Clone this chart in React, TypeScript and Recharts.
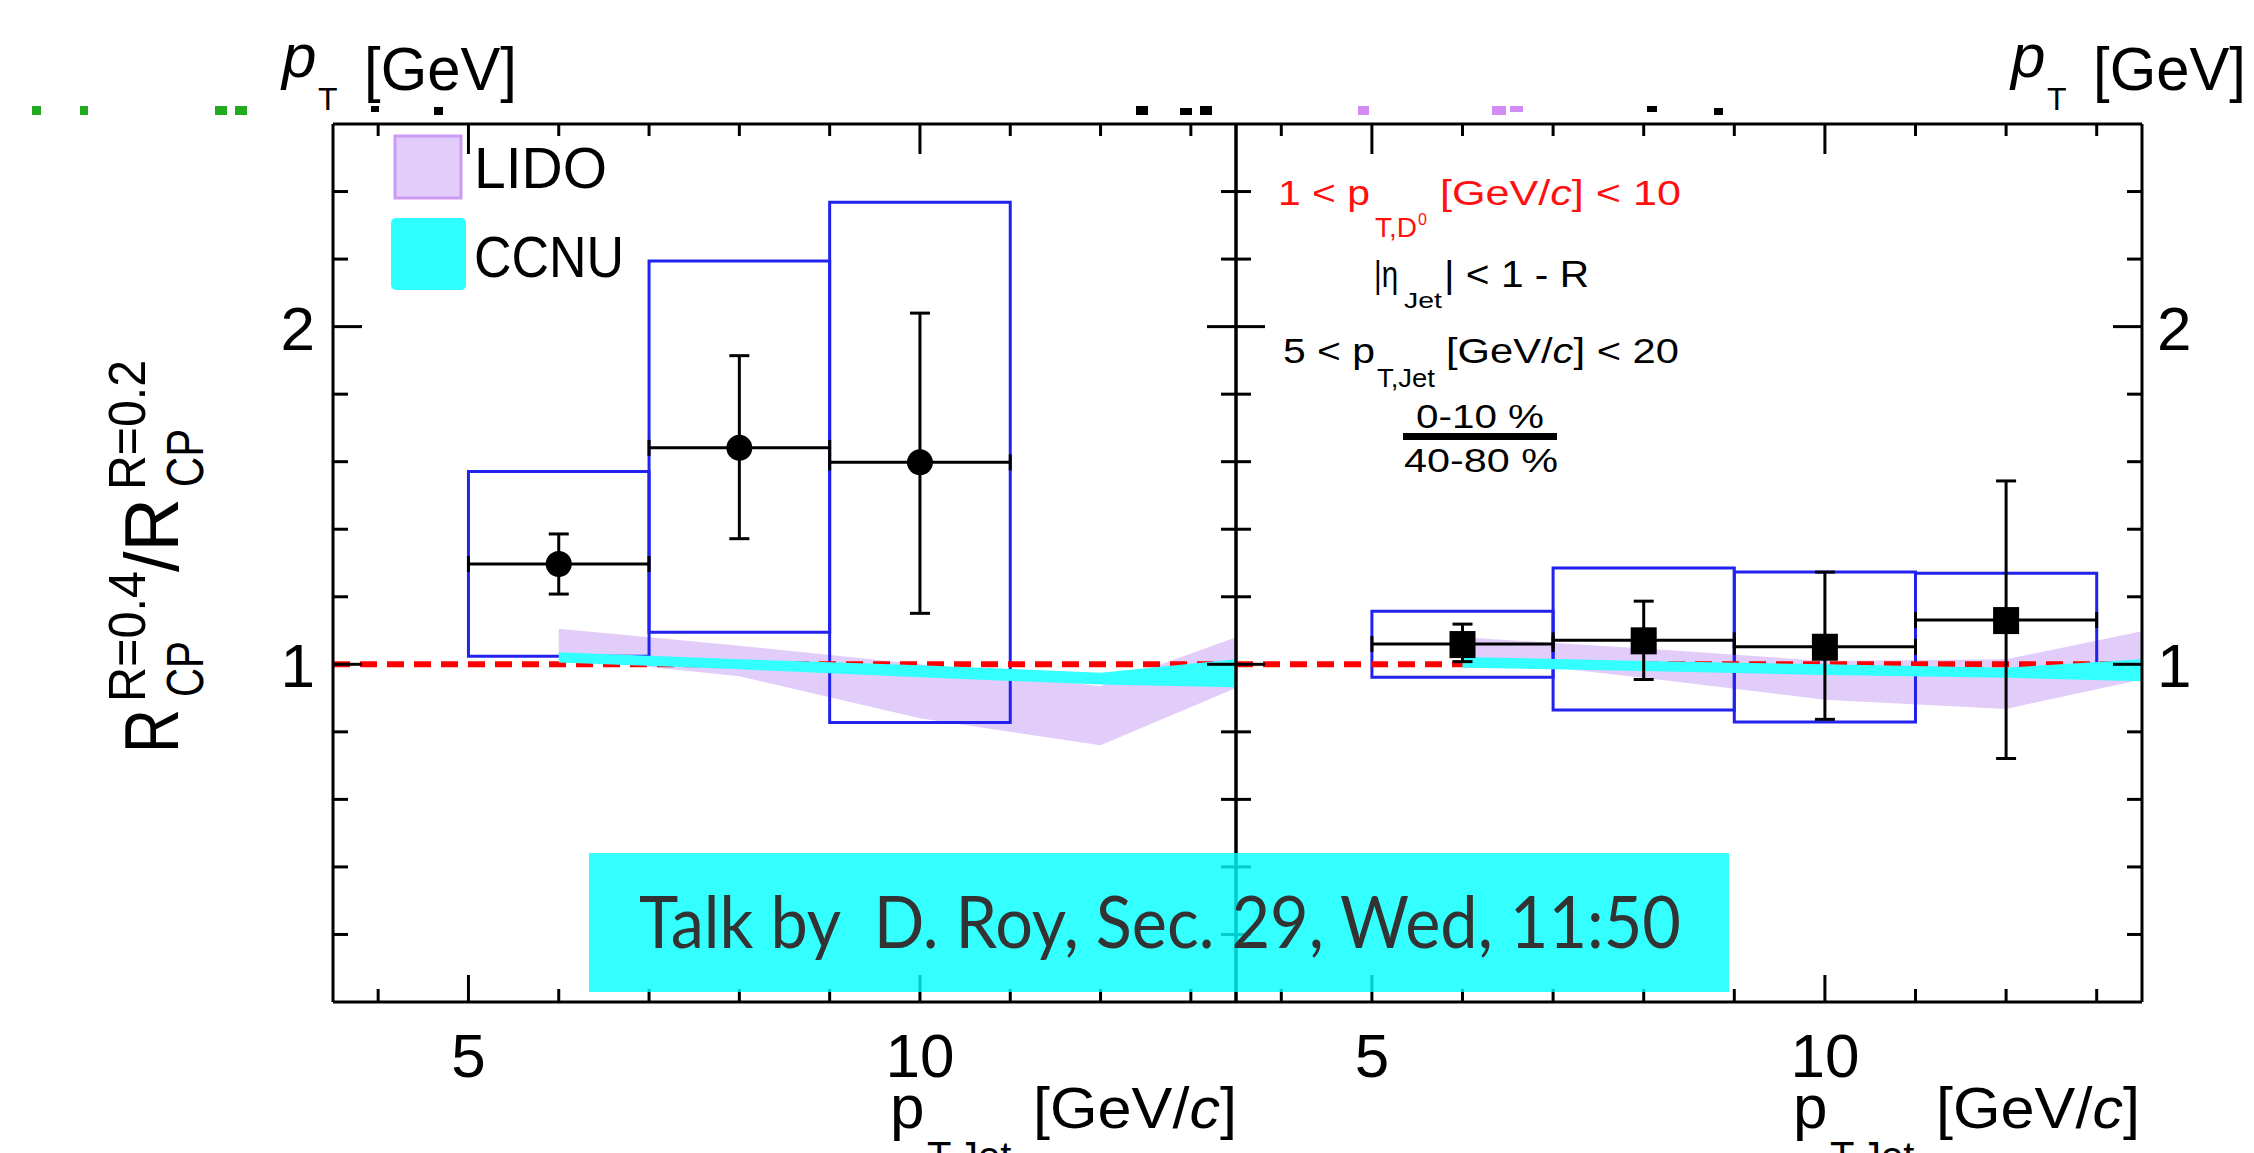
import React from "react";
import {
  ComposedChart,
  XAxis,
  YAxis,
  Area,
  Scatter,
  ErrorBar,
  ReferenceArea,
  ReferenceLine,
} from "recharts";

const W = 2254;
const H = 1153;
const PLOT_TOP = 124;
const PLOT_BOTTOM = 1002;
const FONT = "'Liberation Sans', Arial, Helvetica, sans-serif";

// axis ticks
const xTicks = [4, 5, 6, 7, 8, 9, 10, 11, 12, 13];
const xMajor = [5, 10];
const yTicks = [0.2, 0.4, 0.6, 0.8, 1, 1.2, 1.4, 1.6, 1.8, 2, 2.2, 2.4];
const yMajor = [1, 2];

// model bands (same x nodes in both panels)
const bandX = [6, 8, 10, 12, 13.5];
const lidoLeftLo = [1.02, 0.965, 0.84, 0.76, 0.93];
const lidoLeftHi = [1.105, 1.055, 1.0, 0.935, 1.08];
const ccnuLeftLo = [1.005, 0.985, 0.962, 0.94, 0.932];
const ccnuLeftHi = [1.036, 1.015, 0.997, 0.975, 1.015];
const lidoRightLo = [1.02, 0.96, 0.895, 0.868, 0.955];
const lidoRightHi = [1.08, 1.047, 1.01, 1.015, 1.098];
const ccnuRightLo = [0.99, 0.98, 0.968, 0.96, 0.95];
const ccnuRightHi = [1.022, 1.01, 1.0, 0.99, 1.015];

// left panel: circles (bins 5-7, 7-9, 9-11)
const leftBinLo = [5, 7, 9];
const leftBinHi = [7, 9, 11];
const leftY = [1.297, 1.641, 1.598];
const leftStatLo = [1.208, 1.372, 1.151];
const leftStatHi = [1.386, 1.914, 2.04];
const leftSysLo = [1.024, 1.095, 0.828];
const leftSysHi = [1.571, 2.194, 2.368];

// right panel: squares (bins 5-7, 7-9, 9-11, 11-13)
const rightBinLo = [5, 7, 9, 11];
const rightBinHi = [7, 9, 11, 13];
const rightY = [1.06, 1.071, 1.052, 1.131];
const rightStatLo = [1.008, 0.955, 0.837, 0.721];
const rightStatHi = [1.119, 1.187, 1.273, 1.543];
const rightSysLo = [0.962, 0.865, 0.829, 0.975];
const rightSysHi = [1.157, 1.285, 1.273, 1.27];

const makeBands = (lLo, lHi, cLo, cHi) =>
  bandX.map((x, i) => ({ x, lido: [lLo[i], lHi[i]], ccnu: [cLo[i], cHi[i]] }));

const makePoints = (binLo, binHi, y, lo, hi) =>
  y.map((v, i) => ({
    x: (binLo[i] + binHi[i]) / 2,
    y: v,
    ey: [v - lo[i], hi[i] - v],
    ex: (binHi[i] - binLo[i]) / 2,
  }));

const makeBoxes = (binLo, binHi, sLo, sHi) =>
  binLo.map((b, i) => ({ x1: b, x2: binHi[i], y1: sLo[i], y2: sHi[i] }));

const leftBands = makeBands(lidoLeftLo, lidoLeftHi, ccnuLeftLo, ccnuLeftHi);
const rightBands = makeBands(lidoRightLo, lidoRightHi, ccnuRightLo, ccnuRightHi);
const leftPoints = makePoints(leftBinLo, leftBinHi, leftY, leftStatLo, leftStatHi);
const rightPoints = makePoints(rightBinLo, rightBinHi, rightY, rightStatLo, rightStatHi);
const leftBoxes = makeBoxes(leftBinLo, leftBinHi, leftSysLo, leftSysHi);
const rightBoxes = makeBoxes(rightBinLo, rightBinHi, rightSysLo, rightSysHi);

const axisStyle = { stroke: "#000", strokeWidth: 3 };

// ticks drawn inward from the frame, labels only where asked
const makeTick = (side: string, showLabel: boolean) => (props: any) => {
  const { x, y, payload } = props;
  const v = payload.value;
  const vertical = side === "bottom" || side === "top";
  const major = vertical ? xMajor.includes(v) : yMajor.includes(v);
  let len = major ? 29 : 15;
  if (side === "bottom") len = major ? 27 : 13;
  if (side === "top") len = major ? 30 : 12;
  let line;
  let label = null;
  if (side === "bottom") {
    line = <line x1={x} y1={y} x2={x} y2={y - len} />;
    if (showLabel && major)
      label = <text x={x} y={y + 75} textAnchor="middle">{v}</text>;
  } else if (side === "top") {
    line = <line x1={x} y1={y} x2={x} y2={y + len} />;
  } else if (side === "left") {
    line = <line x1={x} y1={y} x2={x + len} y2={y} />;
    if (showLabel && major)
      label = <text x={x - 18} y={y + 23} textAnchor="end">{v}</text>;
  } else {
    line = <line x1={x} y1={y} x2={x - len} y2={y} />;
    if (showLabel && major)
      label = <text x={x + 15} y={y + 23} textAnchor="start">{v}</text>;
  }
  return (
    <g stroke="#000" strokeWidth={3}>
      {line}
      {label && (
        <g stroke="none" fill="#000" fontSize={62} fontFamily={FONT}>
          {label}
        </g>
      )}
    </g>
  );
};

const Circle = (props: any) => <circle cx={props.cx} cy={props.cy} r={13} fill="#000" />;
const Square = (props: any) => (
  <rect x={props.cx - 13} y={props.cy - 13} width={26} height={27} fill="#000" />
);

const Panel = ({ plotLeft, plotRight, bands, points, boxes, marker, labelSide }: any) => {
  const margin = {
    top: PLOT_TOP - 1,
    bottom: H - PLOT_BOTTOM - 1,
    left: plotLeft - 1,
    right: W - plotRight - 1,
  };
  return (
    <div style={{ position: "absolute", left: 0, top: 0 }}>
      <ComposedChart width={W} height={H} data={bands} margin={margin}>
        <XAxis
          xAxisId="b"
          type="number"
          dataKey="x"
          domain={[3.5, 13.5]}
          allowDataOverflow
          ticks={xTicks}
          interval={0}
          height={1}
          tickSize={0}
          tickMargin={0}
          axisLine={axisStyle}
          tickLine={false}
          tick={makeTick("bottom", true)}
        />
        <XAxis
          xAxisId="t"
          orientation="top"
          type="number"
          dataKey="x"
          domain={[3.5, 13.5]}
          allowDataOverflow
          ticks={xTicks}
          interval={0}
          height={1}
          tickSize={0}
          tickMargin={0}
          axisLine={axisStyle}
          tickLine={false}
          tick={makeTick("top", false)}
        />
        <YAxis
          yAxisId="l"
          type="number"
          domain={[0, 2.6]}
          allowDataOverflow
          ticks={yTicks}
          interval={0}
          width={1}
          tickSize={0}
          tickMargin={0}
          axisLine={axisStyle}
          tickLine={false}
          tick={makeTick("left", labelSide === "left")}
        />
        <YAxis
          yAxisId="r"
          orientation="right"
          type="number"
          domain={[0, 2.6]}
          allowDataOverflow
          ticks={yTicks}
          interval={0}
          width={1}
          tickSize={0}
          tickMargin={0}
          axisLine={axisStyle}
          tickLine={false}
          tick={makeTick("right", labelSide === "right")}
        />
        <Area
          xAxisId="b"
          yAxisId="l"
          dataKey="lido"
          type="linear"
          fill="#E2CCFA"
          fillOpacity={1}
          stroke="none"
          isAnimationActive={false}
          zIndex={100}
        />
        {boxes.map((b: any, i: number) => (
          <ReferenceArea
            key={i}
            xAxisId="b"
            yAxisId="l"
            x1={b.x1}
            x2={b.x2}
            y1={b.y1}
            y2={b.y2}
            fill="none"
            fillOpacity={0}
            stroke="#2222EE"
            strokeWidth={3}
            strokeOpacity={1}
            ifOverflow="visible"
            zIndex={150}
          />
        ))}
        <ReferenceLine
          xAxisId="b"
          yAxisId="l"
          y={1}
          stroke="#FF0000"
          strokeWidth={6}
          strokeDasharray="17 10"
          zIndex={160}
        />
        <Area
          xAxisId="b"
          yAxisId="l"
          dataKey="ccnu"
          type="linear"
          fill="#33FFFF"
          fillOpacity={1}
          stroke="none"
          isAnimationActive={false}
          zIndex={200}
        />
        <Scatter
          xAxisId="b"
          yAxisId="l"
          data={points}
          dataKey="y"
          shape={marker}
          isAnimationActive={false}
          zIndex={600}
        >
          <ErrorBar dataKey="ey" direction="y" width={10} stroke="#000" strokeWidth={3} isAnimationActive={false} />
          <ErrorBar dataKey="ex" direction="x" width={8} stroke="#000" strokeWidth={3} isAnimationActive={false} />
        </Scatter>
      </ComposedChart>
    </div>
  );
};

const PtGeV = ({ px }: { px: number }) => (
  <g>
    <text x={px} y={77} fontSize={62} fontStyle="italic">p</text>
    <text x={px + 36} y={110} fontSize={32}>T</text>
    <text x={px + 82} y={90} fontSize={62} textLength={153} lengthAdjust="spacingAndGlyphs">[GeV]</text>
  </g>
);

const PtJet = ({ px, bx }: { px: number; bx: number }) => (
  <g>
    <text x={px} y={1128} fontSize={62}>p</text>
    <text x={px + 37} y={1170} fontSize={40}>T,Jet</text>
    <text x={bx} y={1128} fontSize={58} textLength={204} lengthAdjust="spacingAndGlyphs">
      [GeV/<tspan fontStyle="italic">c</tspan>]
    </text>
  </g>
);

// small clipped remnants above the frame
const marks = [
  [32, 106, 9, 9, "#22AA22"], [80, 106, 8, 9, "#22AA22"], [215, 106, 12, 9, "#22AA22"], [235, 106, 12, 9, "#22AA22"],
  [371, 106, 8, 6, "#000"], [434, 107, 9, 8, "#000"], [1136, 106, 12, 9, "#000"], [1180, 108, 12, 7, "#000"],
  [1200, 106, 12, 9, "#000"], [1358, 106, 11, 9, "#D38CF5"], [1492, 106, 14, 9, "#D38CF5"], [1510, 106, 13, 6, "#D38CF5"],
  [1647, 106, 10, 6, "#000"], [1714, 108, 9, 7, "#000"],
];

const Overlay = () => (
  <svg
    width={W}
    height={H}
    style={{ position: "absolute", left: 0, top: 0, pointerEvents: "none" }}
    fontFamily={FONT}
    fill="#000"
  >
    {marks.map((m: any, i) => (
      <rect key={i} x={m[0]} y={m[1]} width={m[2]} height={m[3]} fill={m[4]} />
    ))}
    <PtGeV px={282} />
    <PtGeV px={2011} />
    <PtJet px={890} bx={1033} />
    <PtJet px={1793} bx={1936} />

    {/* y axis title */}
    <g transform="translate(178, 753) rotate(-90)">
      <text x={0} y={0} fontSize={76} textLength={44} lengthAdjust="spacingAndGlyphs">R</text>
      <text x={51} y={-33} fontSize={52} textLength={131} lengthAdjust="spacingAndGlyphs">R=0.4</text>
      <text x={56} y={25} fontSize={52} textLength={56} lengthAdjust="spacingAndGlyphs">CP</text>
      <text x={181} y={0} fontSize={76} textLength={74} lengthAdjust="spacingAndGlyphs">/R</text>
      <text x={263} y={-33} fontSize={52} textLength={130} lengthAdjust="spacingAndGlyphs">R=0.2</text>
      <text x={266} y={25} fontSize={52} textLength={58} lengthAdjust="spacingAndGlyphs">CP</text>
    </g>

    {/* legend */}
    <rect x={395} y={136} width={66} height={62} fill="#E2CCFA" stroke="#CC99F5" strokeWidth={3} />
    <text x={474} y={188} fontSize={57}>LIDO</text>
    <rect x={391} y={218} width={75} height={72} rx={5} fill="#2EFFFF" />
    <text x={474} y={277} fontSize={57} textLength={150} lengthAdjust="spacingAndGlyphs">CCNU</text>

    {/* selection text */}
    <g fill="#FF1010" fontSize={35}>
      <text x={1278} y={205} textLength={92} lengthAdjust="spacingAndGlyphs">1 &lt; p</text>
      <text x={1375} y={237} fontSize={28} textLength={42} lengthAdjust="spacingAndGlyphs">T,D</text>
      <text x={1418} y={225} fontSize={16}>0</text>
      <text x={1440} y={205} textLength={241} lengthAdjust="spacingAndGlyphs">
        [GeV/<tspan fontStyle="italic">c</tspan>] &lt; 10
      </text>
    </g>
    <g fontSize={37}>
      <text x={1374} y={287} textLength={24} lengthAdjust="spacingAndGlyphs">|η</text>
      <text x={1404} y={308} fontSize={22} textLength={38} lengthAdjust="spacingAndGlyphs">Jet</text>
      <text x={1444} y={287} textLength={145} lengthAdjust="spacingAndGlyphs">| &lt; 1 - R</text>
    </g>
    <g fontSize={35}>
      <text x={1283} y={363} textLength={92} lengthAdjust="spacingAndGlyphs">5 &lt; p</text>
      <text x={1377} y={387} fontSize={26} textLength={58} lengthAdjust="spacingAndGlyphs">T,Jet</text>
      <text x={1446} y={363} textLength={233} lengthAdjust="spacingAndGlyphs">
        [GeV/<tspan fontStyle="italic">c</tspan>] &lt; 20
      </text>
      <text x={1416} y={428} fontSize={34} textLength={128} lengthAdjust="spacingAndGlyphs">0-10 %</text>
      <rect x={1403} y={433} width={154} height={7} />
      <text x={1404} y={472} fontSize={34} textLength={154} lengthAdjust="spacingAndGlyphs">40-80 %</text>
    </g>

    {/* talk banner */}
    <rect x={589} y={853} width={1140} height={139} fill="#00FFFF" fillOpacity={0.8} />
    <text
      x={639}
      y={948}
      fontSize={71}
      fill="#333"
      fontFamily="Lato, 'Open Sans', sans-serif"
      textLength={1042}
      lengthAdjust="spacingAndGlyphs"
      style={{ whiteSpace: "pre" }}
    >
      {"Talk by  D. Roy, Sec. 29, Wed, 11:50"}
    </text>
  </svg>
);

export default function App() {
  return (
    <div
      style={{
        position: "absolute",
        left: 0,
        top: 0,
        width: W,
        height: H,
        background: "#fff",
        overflow: "hidden",
      }}
    >
      <Panel
        plotLeft={333}
        plotRight={1236}
        bands={leftBands}
        points={leftPoints}
        boxes={leftBoxes}
        marker={Circle}
        labelSide="left"
      />
      <Panel
        plotLeft={1236}
        plotRight={2142}
        bands={rightBands}
        points={rightPoints}
        boxes={rightBoxes}
        marker={Square}
        labelSide="right"
      />
      <Overlay />
    </div>
  );
}
